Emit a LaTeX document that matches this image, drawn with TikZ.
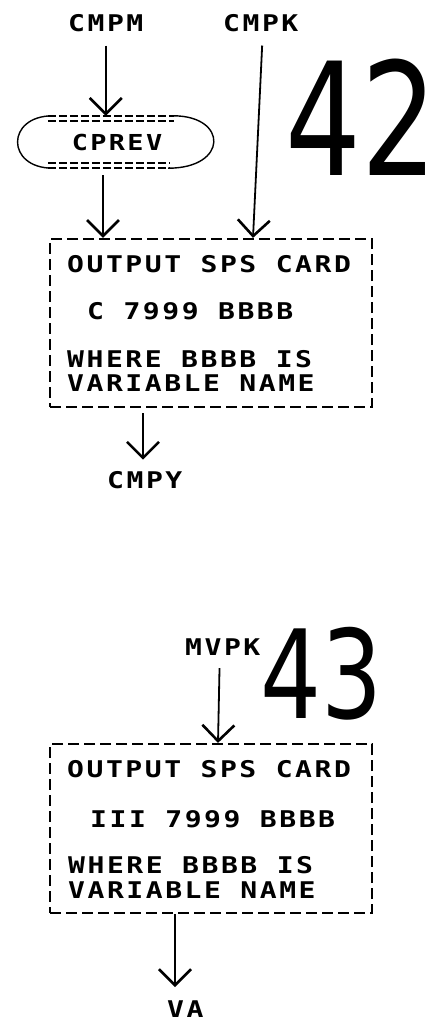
\documentclass[tikz,border=0pt]{standalone}
\usepackage{fontspec}
\usetikzlibrary{arrows.meta}
\newfontfamily\labfont[LetterSpace=11,FakeStretch=1.22]{DejaVu Sans Mono Bold}
\newfontfamily\numfont{DejaVu Sans}
\begin{document}
\begin{tikzpicture}[x=1pt,y=-1pt,
  lab/.style={font=\labfont\fontsize{23}{23}\selectfont, inner sep=0, anchor=base west},
  boxstyle/.style={draw, line width=2.2pt, dash pattern=on 11pt off 5pt, minimum width=322pt, inner sep=0},
  arr/.style={line width=1.8pt, -{Straight Barb[length=16pt,width=32pt,line width=2.6pt]}},
  oval/.style={line width=1.4pt},
  ovaldash/.style={line width=1.8pt, dash pattern=on 8pt off 3pt},
  big/.style={font=\numfont\fontsize{157}{157}\selectfont, inner sep=0, anchor=base west}]
\useasboundingbox (0,0) rectangle (443,1022);

% ---------- 42 ----------
\node[lab] (cmpm) at (68,32) {CMPM};
\node[lab] (cmpk) at (223,32) {CMPK};
\node[big, xscale=0.76] (n42) at (285,175) {42};

\node[lab, font=\labfont\fontsize{22}{22}\selectfont, anchor=center, minimum width=198pt, minimum height=52pt] (cprev) at (117,142) {CPREV};
\draw[oval] ([xshift=35pt]cprev.north west) .. controls ([xshift=-12pt]cprev.north west) and ([xshift=-12pt]cprev.south west) .. ([xshift=35pt]cprev.south west);
\draw[oval] ([xshift=-43pt]cprev.north east) .. controls ([xshift=12pt]cprev.north east) and ([xshift=12pt]cprev.south east) .. ([xshift=-48pt]cprev.south east);
\draw[ovaldash] ([xshift=30pt]cprev.north west) -- ([xshift=-42pt]cprev.north east);
\draw[ovaldash] ([xshift=30pt,yshift=-5pt]cprev.north west) -- ([xshift=-42pt,yshift=-5pt]cprev.north east);
\draw[ovaldash] ([xshift=30pt]cprev.south west) -- ([xshift=-46pt]cprev.south east);
\draw[ovaldash] ([xshift=30pt,yshift=5pt]cprev.south west) -- ([xshift=-46pt,yshift=5pt]cprev.south east);

\node[boxstyle, minimum height=168pt] (box1) at (211,323) {};
\node[lab] (b1a) at (67,272) {OUTPUT SPS CARD};
\node[lab] (b1b) at (87,319) {C 7999 BBBB};
\node[lab] (b1c) at (67,367) {WHERE BBBB IS};
\node[lab] (b1d) at (67,391) {VARIABLE NAME};
\node[lab] (cmpy) at (107,488) {CMPY};

\draw[arr, shorten <=13pt] (cmpm.south) -- (cmpm.south |- cprev.north);
\draw[arr, shorten <=7pt] ([xshift=-14pt]cprev.south) -- ([xshift=-14pt]cprev.south |- box1.north);
\draw[arr, shorten <=13pt] ([xshift=2pt]cmpk.south) -- ([xshift=42pt]box1.north);
\draw[arr, shorten <=5pt, shorten >=11pt] ([xshift=-68pt]box1.south) -- ([xshift=-68pt]box1.south |- cmpy.north);

% ---------- 43 ----------
\node[lab] (mvpk) at (185,655) {MVPK};
\node[big, font=\numfont\fontsize{123}{123}\selectfont, xscale=0.78] (n43) at (260,718) {43};

\node[boxstyle, minimum height=169pt] (box2) at (211,828.5) {};
\node[lab] (b2a) at (67,777) {OUTPUT SPS CARD};
\node[lab] (b2b) at (90,827) {III 7999 BBBB};
\node[lab] (b2c) at (68,873) {WHERE BBBB IS};
\node[lab] (b2d) at (68,898) {VARIABLE NAME};
\node[lab] (va) at (167,1017) {VA};

\draw[arr, shorten <=13pt] ([xshift=-3pt]mvpk.south) -- ([xshift=7pt]box2.north);
\draw[arr, shorten >=13pt] ([xshift=-36pt]box2.south) -- ([xshift=-36pt]box2.south |- va.north);
\end{tikzpicture}
\end{document}
